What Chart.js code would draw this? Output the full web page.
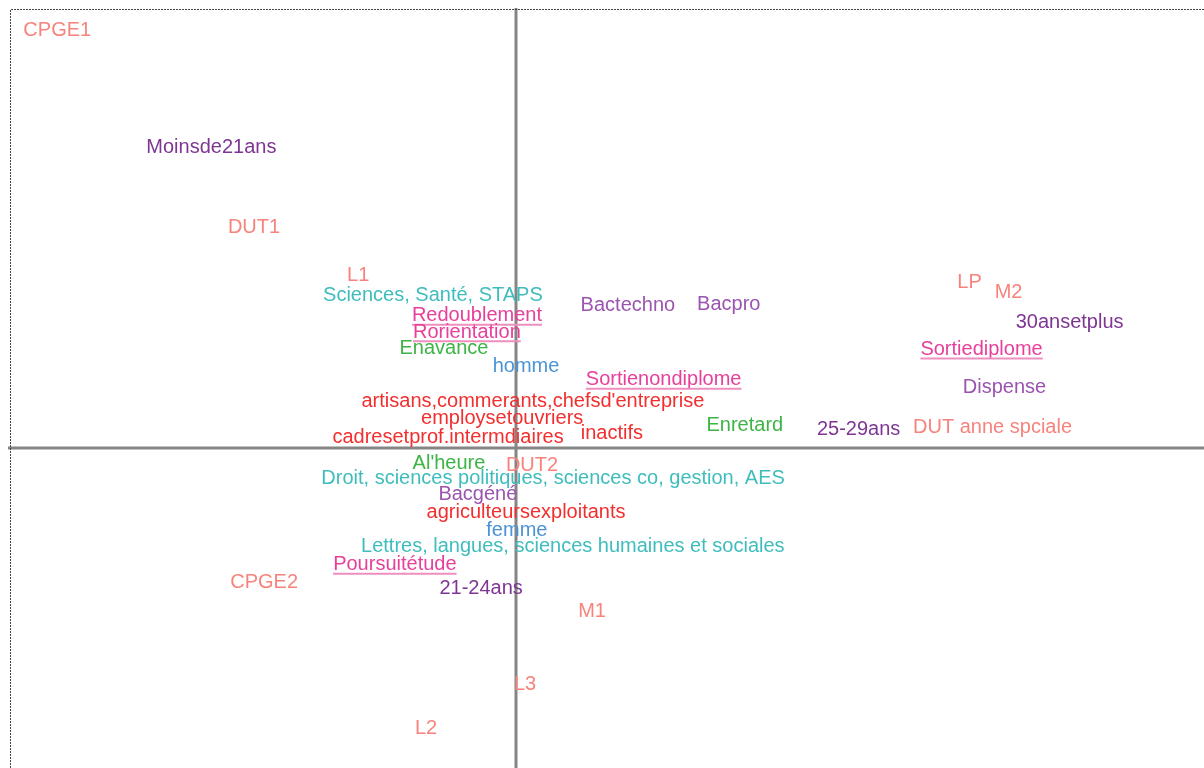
<!DOCTYPE html>
<html lang="fr">
  <head>
    <meta charset="UTF-8" />
    <title>AFC parcours etudiants</title>
    <script src="https://cdn.jsdelivr.net/npm/chart.js"></script>
    <style>
      * {
        margin: 0;
        padding: 0;
        box-sizing: border-box;
      }

      body {
        background: #ffffff;
        overflow: hidden;
      }

      .chart-box {
        width: 1204px;
        height: 768px;
      }
    </style>
  </head>
  <body>
    <div class="chart-box">
      <canvas id="afcChart"></canvas>
    </div>

    <script>
      // modalites (labels) and their coordinates on axes 1 and 2
      const labels = [
        "CPGE1", "Moinsde21ans", "DUT1", "L1", "Sciences, Santé, STAPS",
        "Redoublement", "Rorientation", "Enavance", "homme", "Bactechno",
        "Bacpro", "Sortienondiplome", "artisans,commerants,chefsd'entreprise",
        "employsetouvriers", "cadresetprof.intermdiaires", "inactifs",
        "Enretard", "25-29ans", "DUT anne spciale", "LP", "M2", "30ansetplus",
        "Sortiediplome", "Dispense", "Al'heure", "DUT2",
        "Droit, sciences politiques, sciences co, gestion, AES", "Bacgéné",
        "agriculteursexploitants", "femme",
        "Lettres, langues, sciences humaines et sociales", "Poursuitétude",
        "CPGE2", "21-24ans", "M1", "L3", "L2"
      ];
      const dim1 = [
        -1.0, -0.664, -0.571, -0.344, -0.181,
        -0.085, -0.107, -0.157, 0.022, 0.244,
        0.464, 0.322, 0.037,
        -0.030, -0.148, 0.209,
        0.499, 0.747, 1.039, 0.989, 1.074, 1.207,
        1.015, 1.065, -0.146, 0.035,
        0.081, -0.083,
        0.022, 0.002,
        0.124, -0.264,
        -0.549, -0.076, 0.166, 0.020, -0.196
      ];
      const dim2 = [
        0.952, 0.685, 0.502, 0.393, 0.347,
        0.301, 0.263, 0.226, 0.185, 0.324,
        0.326, 0.155, 0.105,
        0.066, 0.023, 0.032,
        0.050, 0.041, 0.046, 0.377, 0.354, 0.285,
        0.224, 0.137, -0.037, -0.041,
        -0.071, -0.107,
        -0.148, -0.189,
        -0.226, -0.267,
        -0.308, -0.320, -0.374, -0.539, -0.639
      ];
      const groups = [
        "formation", "age", "formation", "formation", "discipline",
        "parcours", "parcours", "avance", "sexe", "bac",
        "bac", "parcours", "csp",
        "csp", "csp", "csp",
        "avance", "age", "formation", "formation", "formation", "age",
        "parcours", "bac", "avance", "formation",
        "discipline", "bac",
        "csp", "sexe",
        "discipline", "parcours",
        "formation", "age", "formation", "formation", "formation"
      ];
      const groupNames = ["formation", "age", "bac", "discipline", "parcours", "avance", "sexe", "csp"];

      const groupColors = {
        formation: "#f8837d",
        age: "#7e3593",
        bac: "#9b54b0",
        discipline: "#3fbdbd",
        parcours: "#e8409a",
        avance: "#3db446",
        sexe: "#4b93d6",
        csp: "#f22e2e",
      };

      const datasets = groupNames.map((g) => ({
        label: g,
        data: labels
          .map((l, i) => ({ x: dim1[i], y: dim2[i], name: l, g: groups[i] }))
          .filter((p) => p.g === g),
        pointRadius: 0,
        pointHoverRadius: 0,
        color: groupColors[g],
      }));

      // zero axes + dotted frame
      const axesPlugin = {
        id: "axesPlugin",
        beforeDatasetsDraw(chart) {
          const { ctx, chartArea, scales } = chart;
          const x0 = Math.round(scales.x.getPixelForValue(0));
          const y0 = Math.round(scales.y.getPixelForValue(0));
          ctx.save();
          ctx.strokeStyle = "#858585";
          ctx.lineWidth = 3;
          ctx.beginPath();
          ctx.moveTo(x0, chartArea.top - 1);
          ctx.lineTo(x0, chartArea.bottom);
          ctx.moveTo(chartArea.left - 2, y0);
          ctx.lineTo(chartArea.right, y0);
          ctx.stroke();

          ctx.strokeStyle = "#444444";
          ctx.lineWidth = 1;
          ctx.setLineDash([2, 1]);
          ctx.beginPath();
          ctx.moveTo(chartArea.left + 0.5, chartArea.bottom);
          ctx.lineTo(chartArea.left + 0.5, chartArea.top + 0.5);
          ctx.lineTo(chartArea.right, chartArea.top + 0.5);
          ctx.stroke();
          ctx.restore();
        },
      };

      // draw each modalite as text at its point
      const textPlugin = {
        id: "textPlugin",
        afterDatasetsDraw(chart) {
          const { ctx } = chart;
          ctx.save();
          ctx.font = "20px 'Liberation Sans', Arial, sans-serif";
          ctx.textAlign = "center";
          ctx.textBaseline = "middle";
          chart.data.datasets.forEach((ds, di) => {
            const meta = chart.getDatasetMeta(di);
            meta.data.forEach((el, j) => {
              const p = ds.data[j];
              ctx.fillStyle = ds.color;
              ctx.fillText(p.name, el.x, el.y);
              if (p.g === "parcours") {
                const w = ctx.measureText(p.name).width;
                ctx.strokeStyle = "#ee8fbf";
                ctx.lineWidth = 2;
                ctx.beginPath();
                ctx.moveTo(el.x - w / 2, el.y + 9);
                ctx.lineTo(el.x + w / 2, el.y + 9);
                ctx.stroke();
              }
            });
          });
          ctx.restore();
        },
      };

      new Chart(document.getElementById("afcChart"), {
        type: "scatter",
        data: { datasets: datasets },
        options: {
          responsive: true,
          maintainAspectRatio: false,
          animation: false,
          layout: { padding: { left: 10, top: 9, right: 0, bottom: 0 } },
          scales: {
            x: { display: false, min: -1.103, max: 1.5 },
            y: { display: false, min: -0.73, max: 1.0 },
          },
          plugins: {
            legend: { display: false },
            tooltip: { enabled: false },
          },
        },
        plugins: [axesPlugin, textPlugin],
      });
    </script>
  </body>
</html>
